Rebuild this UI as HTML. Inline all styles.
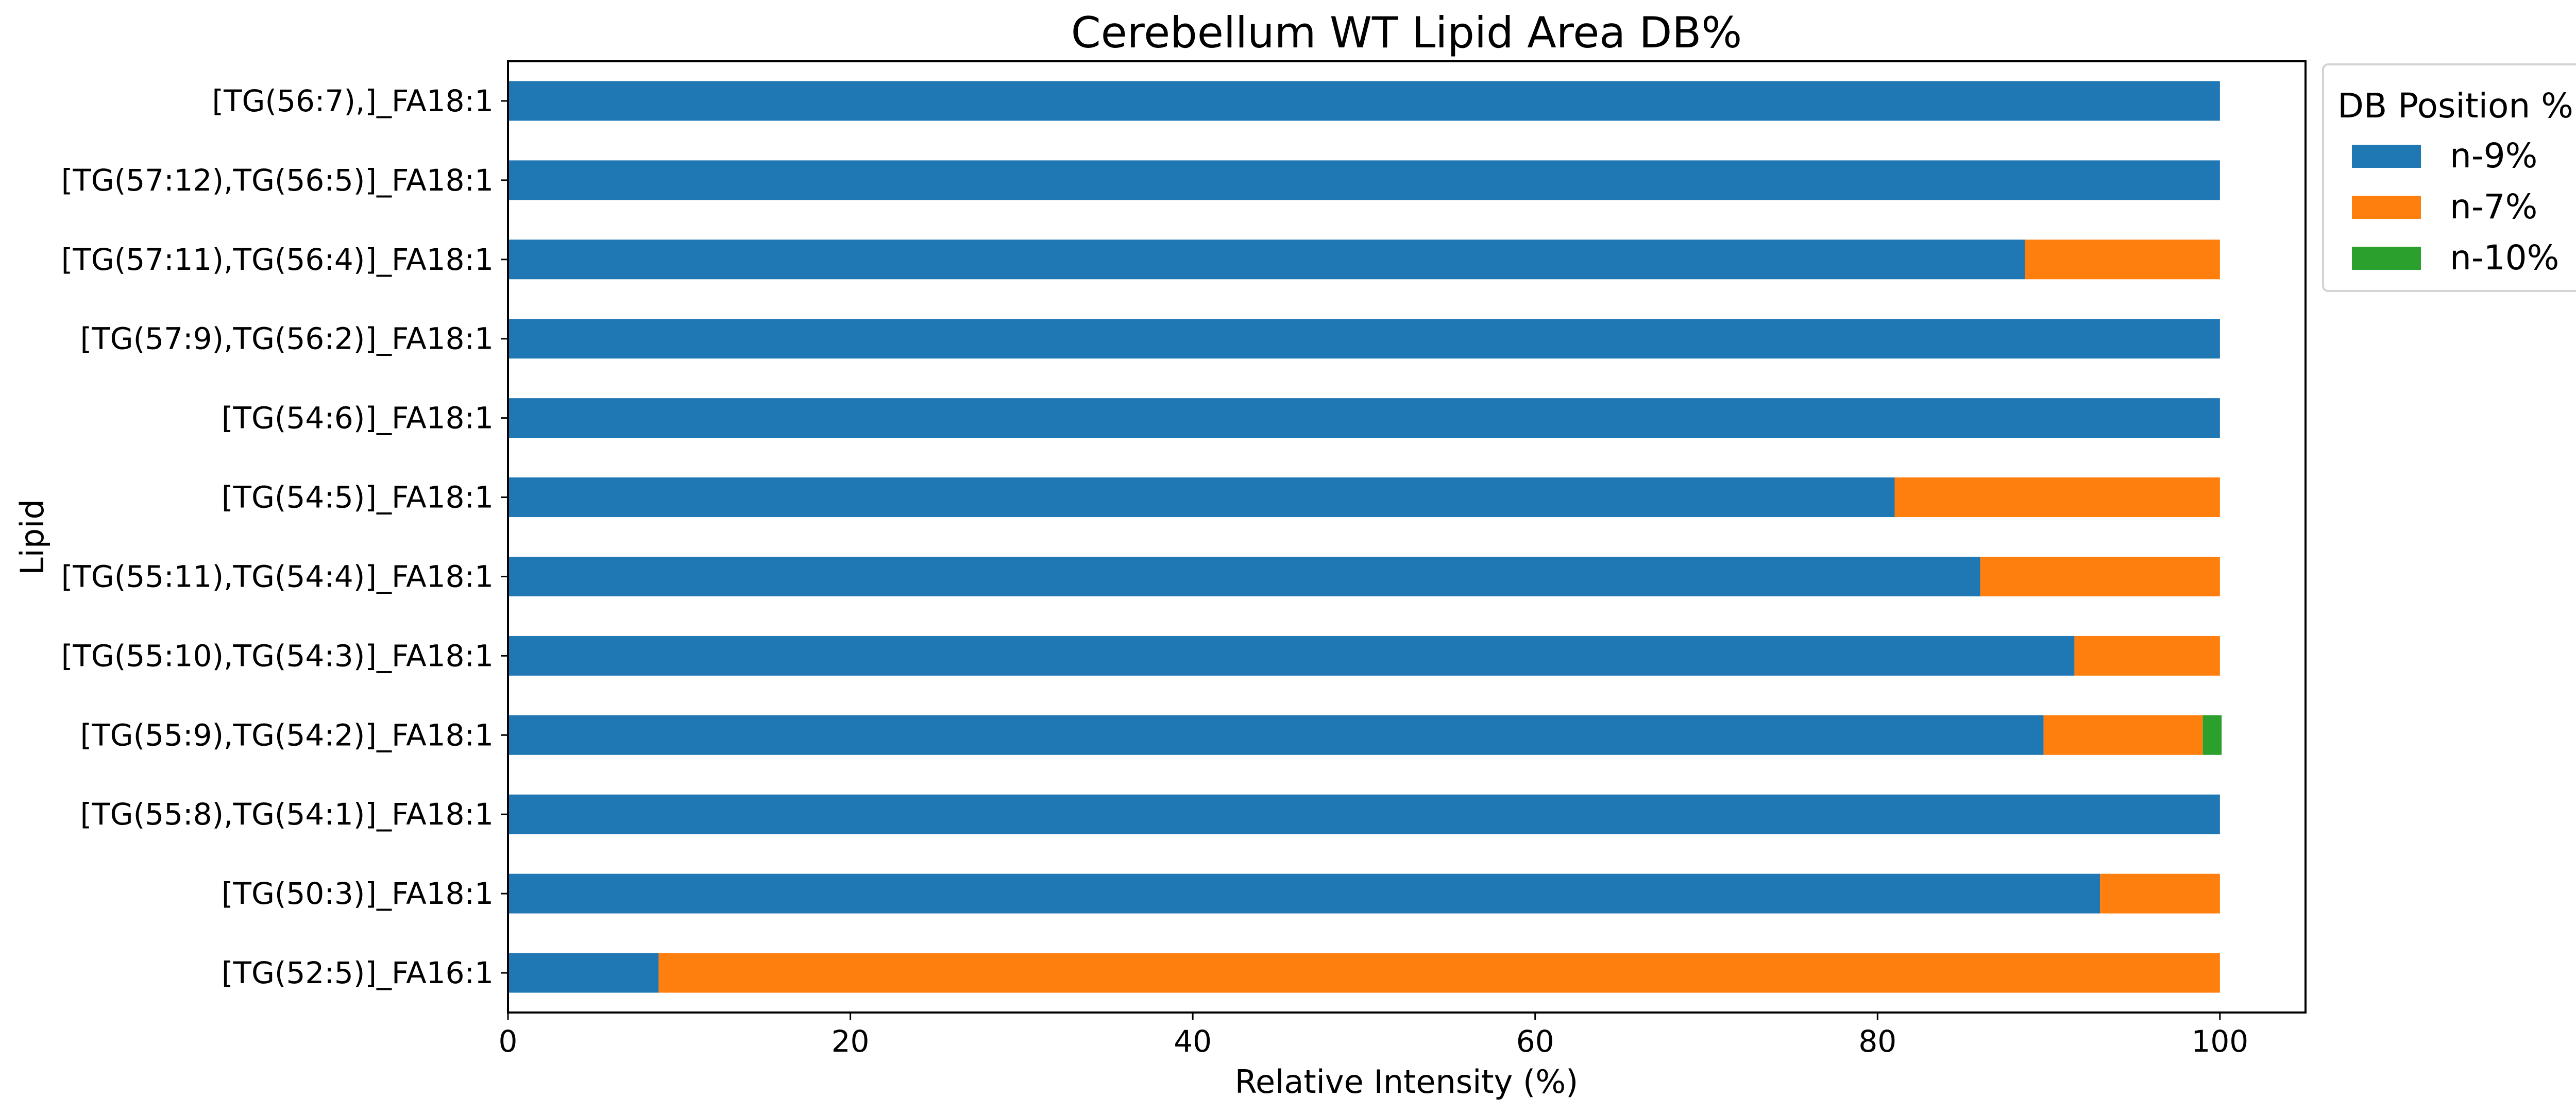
<!DOCTYPE html>
<html><head><meta charset="utf-8"><style>
html,body{margin:0;padding:0;background:#fff;}
svg{display:block;font-family:"DejaVu Sans","Liberation Sans",sans-serif;}
</style></head><body>
<svg id="chart" width="5053" height="2165" viewBox="0 0 5053 2165" xmlns="http://www.w3.org/2000/svg">
<rect x="0" y="0" width="5053" height="2165" fill="#fff"/>
<text x="2730" y="92" font-size="83" text-anchor="middle">Cerebellum WT Lipid Area DB%</text>
<g id="bars"></g>
<g id="yticks"></g>
<g id="xticks"></g>
<rect x="986" y="119" width="3489" height="1847" fill="none" stroke="#000" stroke-width="4"/>
<text x="2730" y="2122" font-size="62" text-anchor="middle">Relative Intensity (%)</text>
<text x="0" y="0" font-size="62" text-anchor="middle" transform="translate(84,1043) rotate(-90)">Lipid</text>
<g>
<rect x="4509" y="125" width="514" height="440" rx="10" fill="#fff" stroke="#d4d4d4" stroke-width="4"/>
<text x="4766" y="228" font-size="66" text-anchor="middle">DB Position %</text>
<g id="legend-entries"></g>
</g>
</svg>
<script>
const categories = ["[TG(52:5)]_FA16:1","[TG(50:3)]_FA18:1","[TG(55:8),TG(54:1)]_FA18:1","[TG(55:9),TG(54:2)]_FA18:1","[TG(55:10),TG(54:3)]_FA18:1","[TG(55:11),TG(54:4)]_FA18:1","[TG(54:5)]_FA18:1","[TG(54:6)]_FA18:1","[TG(57:9),TG(56:2)]_FA18:1","[TG(57:11),TG(56:4)]_FA18:1","[TG(57:12),TG(56:5)]_FA18:1","[TG(56:7),]_FA18:1"];
const seriesNames = ["n-9%","n-7%","n-10%"];
const n9 = [8.8,93.0,100,89.7,91.5,86.0,81.0,100,100,88.6,100,100];
const n7 = [91.2,7.0,0,9.3,8.5,14.0,19.0,0,0,11.4,0,0];
const n10 = [0,0,0,1.1,0,0,0,0,0,0,0,0];
const xTicks = [0,20,40,60,80,100];
const colors = ["#1f77b4","#ff7f0e","#2ca02c"];
const NS="http://www.w3.org/2000/svg";
const L=986,R=4475,T=119,B=1966,XMAX=105;
const xs=v=>L+(v/XMAX)*(R-L);
const n=categories.length;
const ys=i=>B-(i+0.5)*(B-T)/n;
const bw=0.5*(B-T)/n;
function mk(t,a){const e=document.createElementNS(NS,t);for(const k in a)e.setAttribute(k,a[k]);return e;}
const bars=document.getElementById('bars');
const series=[n9,n7,n10];
for(let i=0;i<n;i++){
  let acc=0;
  for(let s=0;s<3;s++){
    const v=series[s][i];
    if(v>0){
      const r=mk('rect',{x:xs(acc),y:ys(i)-bw/2,width:xs(acc+v)-xs(acc),height:bw,fill:colors[s]});
      
      
      bars.appendChild(r);
    }
    acc+=v;
  }
}
const yt=document.getElementById('yticks');
categories.forEach((c,i)=>{
  const l=mk('line',{x1:L-14,x2:L,y1:ys(i),y2:ys(i),stroke:'#000','stroke-width':3});
  
  
  yt.appendChild(l);
  const t=mk('text',{x:L-28,y:ys(i)+20,'font-size':58,'text-anchor':'end'});
  t.textContent=c;
  
  
  yt.appendChild(t);
});
const xt=document.getElementById('xticks');
xTicks.forEach(v=>{
  const l=mk('line',{x1:xs(v),x2:xs(v),y1:B,y2:B+14,stroke:'#000','stroke-width':3});
  
  
  xt.appendChild(l);
  const t=mk('text',{x:xs(v),y:B+76,'font-size':58,'text-anchor':'middle'});
  t.textContent=v;
  
  
  xt.appendChild(t);
});
const le=document.getElementById('legend-entries');
seriesNames.forEach((s,k)=>{
  const y0=281+k*99;
  const r=mk('rect',{x:4565,y:y0,width:134,height:45,fill:colors[k]});
  
  
  le.appendChild(r);
  const t=mk('text',{x:4755,y:y0+44,'font-size':66});
  t.textContent=s;
  
  
  le.appendChild(t);
});
</script>
</body></html>
